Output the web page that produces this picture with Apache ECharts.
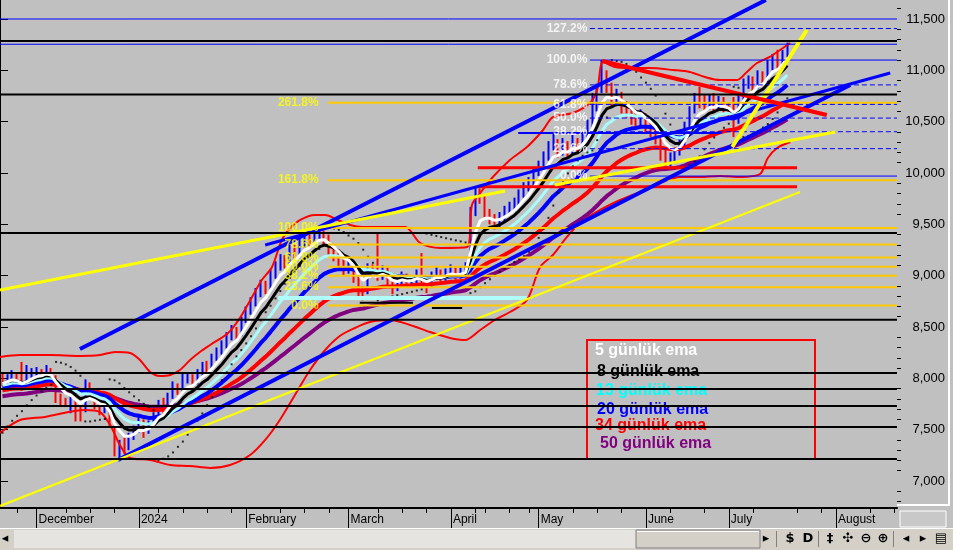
<!DOCTYPE html>
<html><head><meta charset="utf-8">
<script src="https://cdn.jsdelivr.net/npm/echarts@6/dist/echarts.min.js"></script>
<style>html,body{margin:0;padding:0;background:#c0c0c0}#c{width:953px;height:550px}</style>
</head><body><div id="c"></div>
<script>
// ---- trading days shown on the axis ----
const daysNov23=[22,23,24,27,28,29,30];
const daysDec23=[1,4,5,6,7,8,11,12,13,14,15,18,19,20,21,22,25,26,27,28,29];
const daysJan24=[2,3,4,5,8,9,10,11,12,15,16,17,18,19,22,23,24,25,26,29,30,31];
const daysFeb24=[1,2,5,6,7,8,9,12,13,14,15,16,19,20,21,22,23,26,27,28,29];
const daysMar24=[1,4,5,6,7,8,11,12,13,14,15,18,19,20,21,22,25,26,27,28,29];
const daysApr24=[1,2,3,4,5,8,9,15,16,17,18,19,22,24,25,26,29,30];
const daysMay24=[2,3,6,7,8,9,10,13,14,15,16,17,20,21,22,23,24,27,28,29,30,31];
const daysJun24=[3,4,5,6,7,10,11,12,13,14,20,21,24,25,26,27,28];
const daysJul24=[1,2,3,4,5,8,9,10,11,12,16,17,18,19,22,23,24,25,26,29,30,31];
const daysAug24=[1,2,5,6,7,8,9,12,13,14,15,16,19];
const monthYears=[2023,2023,2024,2024,2024,2024,2024,2024,2024,2024];
const monthNums=[11,12,1,2,3,4,5,6,7,8];
const monthLabels=['','December','2024','February','March','April','May','June','July','August'];

// ---- price bars ----
const opens=[7990,7950,8000,8020,7960,7900,8000,8050,8060,8040,
8080,8010,7820,7790,7760,7800,7700,7680,7860,7830,
7740,7690,7720,7560,7310,7360,7330,7430,7500,7570,
7490,7540,7630,7750,7700,7830,7900,7880,7990,8000,
7960,8050,8110,8100,8200,8260,8310,8400,8460,8430,
8560,8650,8740,8820,8900,8870,9000,9080,9150,9120,
9250,9220,9300,9350,9320,9390,9410,9360,9250,9200,
9150,9060,9100,9000,8850,8830,9050,9020,8990,9050,
8950,8880,8920,8990,8930,8960,9010,8950,8900,8990,
9030,8980,9030,9050,9000,9020,9060,9600,9820,9760,
9610,9560,9500,9560,9620,9660,9700,9790,9850,9900,
10000,10060,10150,10250,10300,10200,10280,10200,10300,10250,
10350,10450,10620,10800,10950,10850,10700,10760,10650,10600,
10550,10500,10560,10450,10420,10350,10220,10130,10150,10190,
10300,10450,10600,10720,10700,10650,10710,10650,10700,10620,
10600,10500,10700,10850,10900,10850,10950,10900,11050,11100,
11050,11150];
const closes=[7950,8000,8020,7960,7900,8000,8050,8060,8040,8080,
8010,7820,7790,7760,7800,7700,7680,7860,7830,7740,
7690,7720,7560,7310,7360,7330,7430,7500,7570,7490,
7540,7630,7750,7700,7830,7900,7880,7990,8000,7960,
8050,8110,8100,8200,8260,8310,8400,8460,8430,8560,
8650,8740,8820,8900,8870,9000,9080,9150,9120,9250,
9220,9300,9350,9320,9390,9410,9360,9250,9200,9150,
9060,9100,9000,8850,8830,9050,9020,8990,9050,8950,
8880,8920,8990,8930,8960,9010,8950,8900,8990,9030,
8980,9030,9050,9000,9020,9060,9600,9820,9760,9610,
9560,9500,9560,9620,9660,9700,9790,9850,9900,10000,
10060,10150,10250,10300,10200,10280,10200,10300,10250,10350,
10450,10620,10800,10950,10850,10700,10760,10650,10600,10550,
10500,10560,10450,10420,10350,10220,10130,10150,10190,10300,
10450,10600,10720,10700,10650,10710,10650,10700,10620,10600,
10500,10700,10850,10900,10850,10950,10900,11050,11100,11050,
11150,11230];
const lows=[7920,7930,7980,7940,7880,7890,7990,8010,8000,8020,
7980,7760,7740,7720,7660,7580,7580,7670,7790,7700,
7640,7660,7520,7240,7205,7260,7300,7400,7470,7420,
7460,7520,7600,7650,7680,7800,7840,7860,7950,7920,
7940,8020,8050,8080,8170,8230,8290,8370,8380,8410,
8540,8620,8700,8790,8820,8850,8970,9050,9070,9100,
9170,9190,9270,9260,9300,9340,9300,9200,9140,9080,
9000,9020,8930,8790,8760,8820,8980,8950,8960,8900,
8820,8850,8880,8880,8890,8920,8900,8830,8880,8960,
8930,8950,8990,8960,8970,8990,9030,9580,9700,9560,
9500,9450,9470,9520,9590,9620,9670,9760,9820,9870,
9970,10030,10120,10220,10150,10170,10140,10170,10200,10220,
10320,10400,10600,10780,10780,10640,10650,10580,10540,10470,
10430,10450,10380,10350,10280,10120,10050,10060,10090,10170,
10260,10420,10580,10630,10600,10620,10600,10620,10570,10540,
10350,10480,10680,10820,10790,10820,10850,10880,11000,10990,
11040,11130];
const highs=[8060,8040,8080,8050,8160,8130,8100,8110,8090,8130,
8100,8030,7850,7810,7820,7800,7740,7990,7960,7850,
7760,7800,7740,7570,7400,7420,7470,7540,7640,7600,
7590,7670,7790,7810,7860,7970,7950,8050,8060,8040,
8090,8160,8170,8240,8300,8370,8450,8520,8500,8600,
8700,8790,8880,8960,8950,9060,9140,9210,9200,9300,
9300,9370,9420,9400,9450,9465,9440,9400,9290,9260,
9200,9180,9130,9020,8900,9120,9110,9410,9100,9080,
8980,8970,9040,9020,9000,9060,9220,8980,9040,9090,
9060,9070,9110,9080,9080,9130,9670,9870,9850,9790,
9650,9600,9620,9680,9720,9760,9840,9910,9960,10060,
10120,10210,10310,10380,10330,10340,10310,10370,10340,10400,
10520,10780,10870,11100,11000,10880,10820,10790,10700,10640,
10600,10620,10580,10500,10460,10380,10250,10200,10240,10350,
10500,10650,10780,10840,10760,10760,10780,10750,10740,10690,
10740,10760,10920,10950,10940,11000,10990,11100,11160,11200,
11200,11270];

// ---- indicator settings (EMA periods and their values just before the first bar) ----
const emaPeriods=[5,8,13,20,34,50];
const emaSeeds=[7950,7960,7930,7910,7880,7820];
const emaNames=['5 günlük ema','8 günlük ema','13 günlük ema','20 günlük ema','34 günlük ema','50 günlük ema'];
const emaColors=['#ffffff','#000000','#a8fcfc','#0000ff','#ff0000','#800080'];
const legendColors=['#ffffff','#000000','#00ffff','#0000ff','#ff0000','#800080'];
const sarStart=[1,7470,8080,0.1];

// Bollinger band: [bar position, value]
const bbUpper=[[0,8208],[4.1,8227],[10.3,8227],[16.4,8218],[20.5,8227],[23.6,8257],[26.7,8247],[28.7,8179],[30.8,8062],[32.8,8023],[34.9,8033],[36.9,8081],[39,8179],[41,8257],[43.1,8325],[46.8,8442],[49.2,8588],[51.7,8792],[53.7,8958],[55.8,9085],[57.8,9347],[59.5,9464],[61.5,9542],[64.6,9591],[66.7,9591],[69.3,9542],[71.8,9494],[74.3,9474],[77.9,9474],[83.1,9474],[86.2,9318],[90.3,9270],[95.8,9279],[96.8,9688],[98.5,9805],[101.1,9961],[104.6,10127],[108.1,10253],[111.4,10419],[113.4,10545],[117.5,10584],[121,10682],[122.5,10808],[123.7,11081],[126.2,11032],[129.2,11023],[133.3,11023],[138.1,11003],[141.5,10984],[144.6,10935],[147.7,10906],[151.2,10906],[153.2,10984],[155.3,11071],[157.9,11130],[160,11198],[162.1,11266]];
const bbLower=[[0,7468],[4.1,7594],[9.2,7624],[17.4,7692],[20.5,7672],[22.6,7546],[24.6,7351],[26.7,7224],[30.8,7205],[34.9,7156],[39,7146],[43.1,7127],[47.2,7156],[51.3,7253],[54.4,7400],[57.4,7594],[60.5,7838],[63.6,8081],[66.7,8276],[69.7,8412],[72.8,8490],[75.9,8549],[80,8568],[84.1,8520],[88.2,8451],[92.3,8393],[95.4,8373],[98.5,8471],[101.5,8568],[104.6,8646],[108.1,8763],[110.8,9085],[113.4,9201],[116.3,9377],[119,9513],[123.1,9640],[127.2,9737],[131.3,9815],[135.4,9903],[139.5,9961],[143.6,9961],[147.7,9971],[151.8,9961],[155.9,9990],[157.5,10146],[159.4,10244],[162.1,10302]];

// ---- drawn levels ----
const blackLevels=[11286,10765,9415,8570,8052,7896,7730,7526,7214];
const blueLevels=[11500,11254];
const fibBlueLevels=[9970,10237,10402,10535,10668,10858,11100,11407];
const fibBlueLabels=['0.0%','23.6%','38.2%','50.0%','61.8%','78.6%','100.0%','127.2%'];
const fibBlueDashed=[0,1,1,1,1,1,0,1];
const fibBlueStart=121;
const fibYellowLevels=[8710,8888,8998,9087,9176,9303,9464,9930,10684];
const fibYellowLabels=['0.0%','23.6%','38.2%','50.0%','61.8%','78.6%','100.0%','161.8%','261.8%'];
const fibYellowStart=67.3;
// trend lines: [x1, v1, x2, v2] in bar positions
const blueTrends=[[16.4,8286,157.1,11685],[24.2,7205,174.4,10857],[54.4,9299,182.6,10974]];
const blueTrendWidths=[4,4,3];
const yellowTrends=[[0,8860,103.6,9825],[113.8,9883,171.3,10399],[0,6757,164.1,9815],[150.2,10253,165.5,11393]];
const yellowTrendWidths=[3,3,2,4];
const redTrends=[[123.5,11091,169.6,10565]];
const redSegments=[[98,10050,163.5,10050],[98,9865,163.5,9865]];
const blueSegments=[[106.3,10390,148,10390]];
const cyanSegments=[[57,8782,108,8782]];
const blackSegments=[[73.8,8737,84.7,8737],[88.6,8685,94.8,8685]];

const yMajor=[7000,7500,8000,8500,9000,9500,10000,10500,11000,11500];
const yMinor=[6800,6900,7100,7200,7300,7400,7600,7700,7800,7900,8100,8200,8300,8400,8600,8700,8800,8900,9100,9200,9300,9400,9600,9700,9800,9900,10100,10200,10300,10400,10600,10700,10800,10900,11100,11200,11300,11400,11600];

// ---- build ----
const monthDays=[daysNov23,daysDec23,daysJan24,daysFeb24,daysMar24,daysApr24,daysMay24,daysJun24,daysJul24,daysAug24];
const pad=n=>(n<10?'0':'')+n;
const categories=[], monthStart={};
monthDays.forEach((days,mi)=>days.forEach((d,di)=>{
  if(di===0&&mi>0) monthStart[categories.length]=monthLabels[mi];
  categories.push(monthYears[mi]+'-'+pad(monthNums[mi])+'-'+pad(d));
}));
const NCAT=categories.length;
function isWeekTick(i){
  const dt=new Date(categories[i]+'T12:00:00');
  if(dt.getDay()!==1) return false;
  for(let k=i-2;k<=i;k++) if(monthStart[k]!==undefined) return false;
  return true;
}
function ema(src,p,seed){const a=2/(p+1);let e=seed;return src.map(c=>{e=e+a*(c-e);return Math.round(e*10)/10;});}
function psar(hi,lo,st){
  let up=!!st[0],sar=st[1],ep=st[2],af=st[3];const out=[];
  for(let i=0;i<hi.length;i++){
    if(i>0){
      sar=sar+af*(ep-sar);
      if(up){
        sar=Math.min(sar,lo[i-1],lo[Math.max(0,i-2)]);
        if(lo[i]<sar){up=false;sar=ep;ep=lo[i];af=0.02;}
        else if(hi[i]>ep){ep=hi[i];af=Math.min(0.2,af+0.02);}
      }else{
        sar=Math.max(sar,hi[i-1],hi[Math.max(0,i-2)]);
        if(hi[i]>sar){up=true;sar=ep;ep=hi[i];af=0.02;}
        else if(lo[i]<ep){ep=lo[i];af=Math.min(0.2,af+0.02);}
      }
    }
    out.push(Math.round(sar));
  }
  return out;
}
function seg(s,color,width,z,type){
  return {type:'line',xAxisIndex:2,yAxisIndex:0,data:[[s[0],s[1]],[s[2],s[3]]],symbol:'none',silent:true,z:z,
    lineStyle:{color:color,width:width,type:type||'solid',cap:'butt'},animation:false};
}
const series=[];
// Bollinger
series.push({type:'line',xAxisIndex:2,data:bbUpper,symbol:'none',smooth:0.3,lineStyle:{color:'#ff0000',width:2},z:3,silent:true});
series.push({type:'line',xAxisIndex:2,data:bbLower,symbol:'none',smooth:0.3,lineStyle:{color:'#ff0000',width:2},z:3,silent:true});
// bars
series.push({type:'candlestick',xAxisIndex:0,yAxisIndex:0,barWidth:0.5,z:2,silent:true,
  data:closes.map((c,i)=>[opens[i],c,lows[i],highs[i]]),
  itemStyle:{color:'#0000ff',color0:'#ff0000',borderColor:'#0000ff',borderColor0:'#ff0000',borderWidth:2}});
// EMAs (draw 50 first)
const emaWidths=[3,3,3,4,4,4];
for(let k=emaPeriods.length-1;k>=0;k--){
  series.push({type:'line',name:emaNames[k],xAxisIndex:0,data:ema(closes,emaPeriods[k],emaSeeds[k]),symbol:'none',
    lineStyle:{color:emaColors[k],width:emaWidths[k]},z:4,silent:true});
}
// SAR dots
series.push({type:'scatter',xAxisIndex:0,data:psar(highs,lows,sarStart),symbol:'rect',symbolSize:2,itemStyle:{color:'#000'},z:5,silent:true});
// fib lines
fibYellowLevels.forEach(v=>series.push(seg([fibYellowStart,v,NCAT,v],'#ffc800',2,6)));
fibBlueLevels.forEach((v,i)=>series.push(seg([fibBlueStart,v,NCAT,v],'#0000ff',1,6,fibBlueDashed[i]?[5,3]:'solid')));
blueLevels.forEach(v=>series.push(seg([0,v,NCAT,v],'#0000ff',1,6)));
redSegments.forEach(s=>series.push(seg(s,'#ff0000',3,6)));
blueSegments.forEach(s=>series.push(seg(s,'#0000ff',2,6)));
cyanSegments.forEach(s=>series.push(seg(s,'#b0ffff',4,6)));
blackSegments.forEach(s=>series.push(seg(s,'#000000',2,6)));
blueTrends.forEach((s,i)=>series.push(seg(s,'#0000ff',blueTrendWidths[i],7)));
yellowTrends.forEach((s,i)=>series.push(seg(s,'#ffff00',yellowTrendWidths[i],7)));
redTrends.forEach(s=>series.push(seg(s,'#ff0000',4,7)));
blackLevels.forEach(v=>series.push(seg([0,v,NCAT,v],'#000000',2,8)));
// fib labels
const lblFont={fontWeight:'bold',fontSize:12,fontFamily:'Liberation Sans, Arial, sans-serif'};
series.push({type:'scatter',xAxisIndex:2,symbolSize:1,itemStyle:{color:'rgba(0,0,0,0)'},z:9,silent:true,
  data:fibYellowLevels.map((v,i)=>[fibYellowStart,v,fibYellowLabels[i]]),
  label:Object.assign({show:true,position:'left',distance:9,color:'#ffff00',formatter:p=>p.value[2]},lblFont)});
series.push({type:'scatter',xAxisIndex:2,symbolSize:1,itemStyle:{color:'rgba(0,0,0,0)'},z:9,silent:true,
  data:fibBlueLevels.map((v,i)=>[fibBlueStart,v,fibBlueLabels[i]]),
  label:Object.assign({show:true,position:'left',distance:2,color:'#ffffff',formatter:p=>p.value[2]},lblFont)});

// legend + window chrome
const graphics=[];
graphics.push({type:'rect',shape:{x:587,y:340,width:228,height:119},style:{fill:'none',stroke:'#ff0000',lineWidth:2},z:0});
const legY=[351,372,391,410,426,444], legX=[595,597,596,597,595,600];
emaNames.forEach((t,i)=>graphics.push({type:'text',x:legX[i],y:legY[i],style:{text:t,fill:legendColors[i],font:'bold 16px "Liberation Sans", Arial, sans-serif',textVerticalAlign:'middle'},z:0}));
// bottom scrollbar
graphics.push({type:'rect',shape:{x:0,y:528,width:953,height:22},style:{fill:'#d4d0c8'},z:0});
graphics.push({type:'rect',shape:{x:0,y:528,width:953,height:1},style:{fill:'#ffffff'},z:0});
graphics.push({type:'rect',shape:{x:14,y:530,width:622,height:18},style:{fill:'#e6e4e0'},z:0});
graphics.push({type:'rect',shape:{x:636,y:530,width:124,height:18},style:{fill:'#d4d0c8',stroke:'#808080',lineWidth:1},z:0});
graphics.push({type:'rect',shape:{x:637,y:531,width:122,height:1},style:{fill:'#ffffff'},z:0});
const icons=[[5,'◂'],[766,'▸'],[790,'$'],[808,'D'],[830,'‡'],[848,'✣'],[866,'⊖'],[883,'⊕'],[906,'◂'],[923,'▸'],[941,'▤']];
icons.forEach(ic=>graphics.push({type:'text',x:ic[0],y:539,style:{text:ic[1],fill:'#000',font:'bold 13px "DejaVu Sans", sans-serif',textAlign:'center',textVerticalAlign:'middle'},z:0}));
[776,818,893].forEach(x=>graphics.push({type:'rect',shape:{x:x,y:531,width:1,height:16},style:{fill:'#808080'},z:0}));
// right-bottom box and panel edge
graphics.push({type:'rect',shape:{x:900,y:511,width:46,height:16},style:{fill:'#c8c8c8',stroke:'#ffffff',lineWidth:1},z:0});
graphics.push({type:'rect',shape:{x:948,y:0,width:2,height:505},style:{fill:'#ffffff'},z:0});
graphics.push({type:'rect',shape:{x:897,y:504,width:53,height:2},style:{fill:'#ffffff'},z:0});

const axisFont={fontFamily:'Liberation Sans, Arial, sans-serif',color:'#000'};
const option={
  animation:false,
  backgroundColor:'#c0c0c0',
  grid:{left:0,right:56,top:0,bottom:42,containLabel:false},
  xAxis:[
    {type:'category',data:categories,boundaryGap:true,position:'bottom',
     axisLine:{show:true,lineStyle:{color:'#000',width:2}},
     axisTick:{show:true,alignWithLabel:true,length:20,interval:(i)=>monthStart[i]!==undefined,lineStyle:{color:'#000',width:1}},
     axisLabel:Object.assign({show:true,interval:(i)=>monthStart[i]!==undefined,formatter:(v,i)=>monthStart[i]||'',align:'left',margin:6,padding:[0,0,0,2],fontSize:12},axisFont),
     splitLine:{show:false}},
    {type:'category',data:categories,boundaryGap:true,position:'bottom',
     axisLine:{show:false},axisLabel:{show:false},splitLine:{show:false},
     axisTick:{show:true,alignWithLabel:true,length:5,interval:(i)=>isWeekTick(i),lineStyle:{color:'#000',width:1}}},
    {type:'value',min:0,max:NCAT,show:false}
  ],
  yAxis:[
    {type:'value',position:'right',min:6737,max:11685,
     axisLine:{show:true,lineStyle:{color:'#000',width:1}},
     axisTick:{show:true,length:8,customValues:yMajor,lineStyle:{color:'#000'}},
     axisLabel:Object.assign({show:true,customValues:yMajor,align:'right',margin:48,fontSize:13},axisFont),
     splitLine:{show:false}},
    {type:'value',position:'right',min:6737,max:11685,
     axisLine:{show:false},axisLabel:{show:false},splitLine:{show:false},
     axisTick:{show:true,length:4,customValues:yMinor,lineStyle:{color:'#000'}}}
  ],
  graphic:graphics,
  series:series
};
const chart=echarts.init(document.getElementById('c'));
chart.setOption(option);
</script></body></html>
